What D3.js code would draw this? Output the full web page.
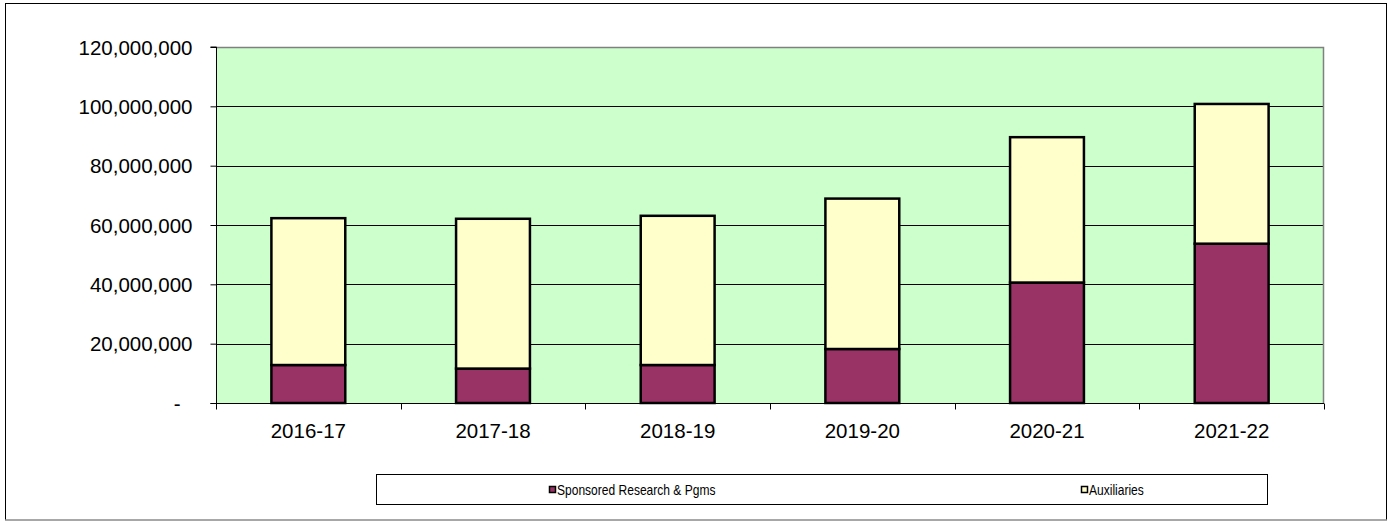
<!DOCTYPE html>
<html>
<head>
<meta charset="utf-8">
<script src="https://cdn.jsdelivr.net/npm/d3@7"></script>
<style>
  html, body { margin: 0; padding: 0; background: #fff; }
  svg { display: block; }
  text { font-family: Arial, "Liberation Sans", sans-serif; fill: #000; }
</style>
</head>
<body>
<svg id="chart" width="1388" height="521"></svg>
<script>
const categories = ["2016-17", "2017-18", "2018-19", "2019-20", "2020-21", "2021-22"];
const sponsored = [12800000, 11600000, 12800000, 18200000, 40600000, 53700000];
const auxiliaries = [49500000, 50500000, 50300000, 50700000, 49000000, 47100000];
const seriesNames = ["Sponsored Research & Pgms", "Auxiliaries"];
const seriesColors = ["#993366", "#FFFFCC"];
const yTicks = [0, 20000000, 40000000, 60000000, 80000000, 100000000, 120000000];

const svg = d3.select("#chart");
const W = 1388, H = 521;

// outer chart border
svg.append("rect").attr("x", 5.5).attr("y", 3.5).attr("width", W - 7).attr("height", H - 4.5)
  .attr("fill", "#fff").attr("stroke", "#000").attr("stroke-width", 1);
svg.append("line").attr("x1", 5).attr("x2", W - 1).attr("y1", H - 1).attr("y2", H - 1)
  .attr("stroke", "#d0d0d0");

const plot = { left: 216, right: 1324, top: 47, bottom: 403 };

const x = d3.scaleBand().domain(categories).range([plot.left, plot.right]).paddingInner(0.6).paddingOuter(0.3);
const xb = d3.scaleBand().domain(categories).range([plot.left, plot.right]);
const y = d3.scaleLinear().domain([0, 120000000]).range([plot.bottom, plot.top]);

// plot background
svg.append("rect").attr("x", plot.left).attr("y", plot.top)
  .attr("width", plot.right - plot.left).attr("height", plot.bottom - plot.top)
  .attr("fill", "#CCFFCC");

// gridlines
svg.append("g").selectAll("line").data(yTicks.filter(d => d > 0 && d < 120000000)).join("line")
  .attr("x1", plot.left).attr("x2", plot.right)
  .attr("y1", d => Math.round(y(d)) + 0.5).attr("y2", d => Math.round(y(d)) + 0.5)
  .attr("stroke", "#000").attr("stroke-width", 1);

// plot border top/right in gray
svg.append("path")
  .attr("d", `M${plot.left},${plot.top + 0.5}H${plot.right - 0.5}V${plot.bottom}`)
  .attr("fill", "none").attr("stroke", "#808080").attr("stroke-width", 1.5);

// stacked data
const data = categories.map((c, i) => ({ cat: c, s: sponsored[i], a: auxiliaries[i] }));
const stack = d3.stack().keys(["s", "a"]);
const stacked = stack(data);

svg.append("g").selectAll("g").data(stacked).join("g")
  .attr("fill", (d, i) => seriesColors[i])
  .selectAll("rect").data(d => d).join("rect")
  .attr("x", d => x(d.data.cat))
  .attr("width", x.bandwidth())
  .attr("y", d => y(d[1]))
  .attr("height", d => y(d[0]) - y(d[1]))
  .attr("stroke", "#000").attr("stroke-width", 2.5);

// y axis
const yAxis = d3.axisLeft(y).tickValues(yTicks).tickSize(6).tickPadding(18)
  .tickFormat(d => d === 0 ? "-" : d3.format(",")(d));
const gy = svg.append("g").attr("transform", `translate(${plot.left + 0.5},0)`).call(yAxis);
gy.attr("font-size", null).attr("font-family", null);
gy.select(".domain").attr("stroke", "#000").attr("d", `M-6,${plot.bottom + 0.5}H0V${plot.top}H-6`);
gy.selectAll(".tick line").attr("stroke", "#000");
gy.selectAll(".tick text").style("font-size", "20.5px")
  .attr("dy", "0.35em");
gy.selectAll(".tick").filter(d => d === 0).select("text").attr("dx", "-12");

// x axis with ticks at band boundaries
const gx = svg.append("g").attr("transform", `translate(0,${plot.bottom + 0.5})`);
gx.append("line").attr("x1", plot.left).attr("x2", plot.right).attr("stroke", "#000");
const boundaries = categories.map(c => xb(c)).concat([plot.right]);
gx.selectAll("line.tk").data(boundaries).join("line").attr("class", "tk")
  .attr("x1", d => Math.round(d) + 0.5).attr("x2", d => Math.round(d) + 0.5)
  .attr("y1", 0).attr("y2", 6).attr("stroke", "#000");
gx.selectAll("text").data(categories).join("text")
  .attr("x", d => xb(d) + xb.bandwidth() / 2).attr("y", 34)
  .attr("text-anchor", "middle").style("font-size", "20.5px").text(d => d);

// legend
const leg = svg.append("g");
leg.append("rect").attr("x", 376.5).attr("y", 474.5).attr("width", 891).attr("height", 30)
  .attr("fill", "#fff").attr("stroke", "#000").attr("stroke-width", 1);
const legX = [549, 1081];
const sx = 0.86;
seriesNames.forEach((n, i) => {
  leg.append("rect").attr("x", legX[i] + 0.5).attr("y", 486.5).attr("width", 6).attr("height", 6)
    .attr("fill", seriesColors[i]).attr("stroke", "#000").attr("stroke-width", 1.5);
  leg.append("text").attr("x", legX[i] + 8).attr("y", 495).style("font-size", "14px")
    .attr("transform", `translate(${(legX[i] + 8) * (1 - sx)},0) scale(${sx},1)`)
    .text(n);
});
</script>
</body>
</html>
